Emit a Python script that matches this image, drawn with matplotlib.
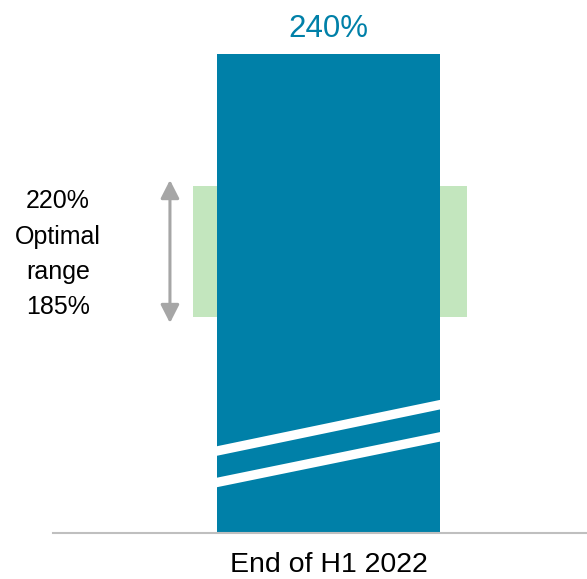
import matplotlib
matplotlib.use('Agg')
import matplotlib.pyplot as plt
from matplotlib.patches import FancyArrowPatch

plt.rcParams['font.family'] = ['Liberation Sans', 'DejaVu Sans']

# data
category = 'End of H1 2022'
bar_value = 240          # ratio shown above the bar
range_low = 185          # optimal range, lower bound
range_high = 220         # optimal range, upper bound
range_words = ['Optimal', 'range']

# layout (the bar is broken, so its drawn height is schematic)
baseline = 127.3
bar_top = 255.3
bar_width = 1.0
band_width = 1.23
breaks = [(149.3, 161.8), (140.9, 153.2)]   # stripe centre at left / right edge
stripe = 2.55

bar_color = '#0080A8'
band_color = '#C3E6BE'
grey = '#A6A6A6'

fig = plt.figure(figsize=(5.87, 5.79), dpi=100)
ax = fig.add_axes([0, 0, 1, 1])
ax.set_xlim(-1.473, 1.159)
ax.set_ylim(115.0, 269.7)
ax.set_axis_off()

# optimal range band behind the bar
ax.bar(0.006, range_high - range_low, bottom=range_low, width=band_width,
       color=band_color, zorder=1)

# main bar
ax.bar(0, bar_top - baseline, bottom=baseline, width=bar_width,
       color=bar_color, zorder=2)

# axis break stripes
for left, right in breaks:
    ax.fill_between([-bar_width / 2 - 0.005, bar_width / 2 + 0.005],
                    [left - stripe / 2, right - stripe / 2],
                    [left + stripe / 2, right + stripe / 2],
                    color='white', lw=0, zorder=3)

# baseline
ax.axhline(baseline, xmin=0.09, xmax=1, color='#BFBFBF', lw=1.5, zorder=4)

# value label
ax.annotate(f'{bar_value}%', xy=(0, bar_top), xytext=(0, 12),
            textcoords='offset points', ha='center', va='baseline',
            fontsize=22.5, color=bar_color)

# category label
ax.annotate(category, xy=(0, baseline), xytext=(0, -28.3),
            textcoords='offset points', ha='center', va='baseline',
            fontsize=20.5, color='black')

# double arrow for the range
arrow_x = -0.711
pad = 1.6
ax.add_patch(FancyArrowPatch((arrow_x, range_high + pad), (arrow_x, range_low - pad),
                             arrowstyle='<|-|>,head_length=0.55,head_width=0.28',
                             color=grey, lw=2.2, mutation_scale=20,
                             shrinkA=0, shrinkB=0, zorder=4))

# range text
label_x = -1.213
lines = [f'{range_high}%'] + range_words + [f'{range_low}%']
ys = [214.1, 204.6, 195.1, 185.8]
for txt, y in zip(lines, ys):
    ax.text(label_x, y, txt, ha='center', va='baseline', fontsize=18,
            color='black')

fig.savefig('out.png', dpi=100)
